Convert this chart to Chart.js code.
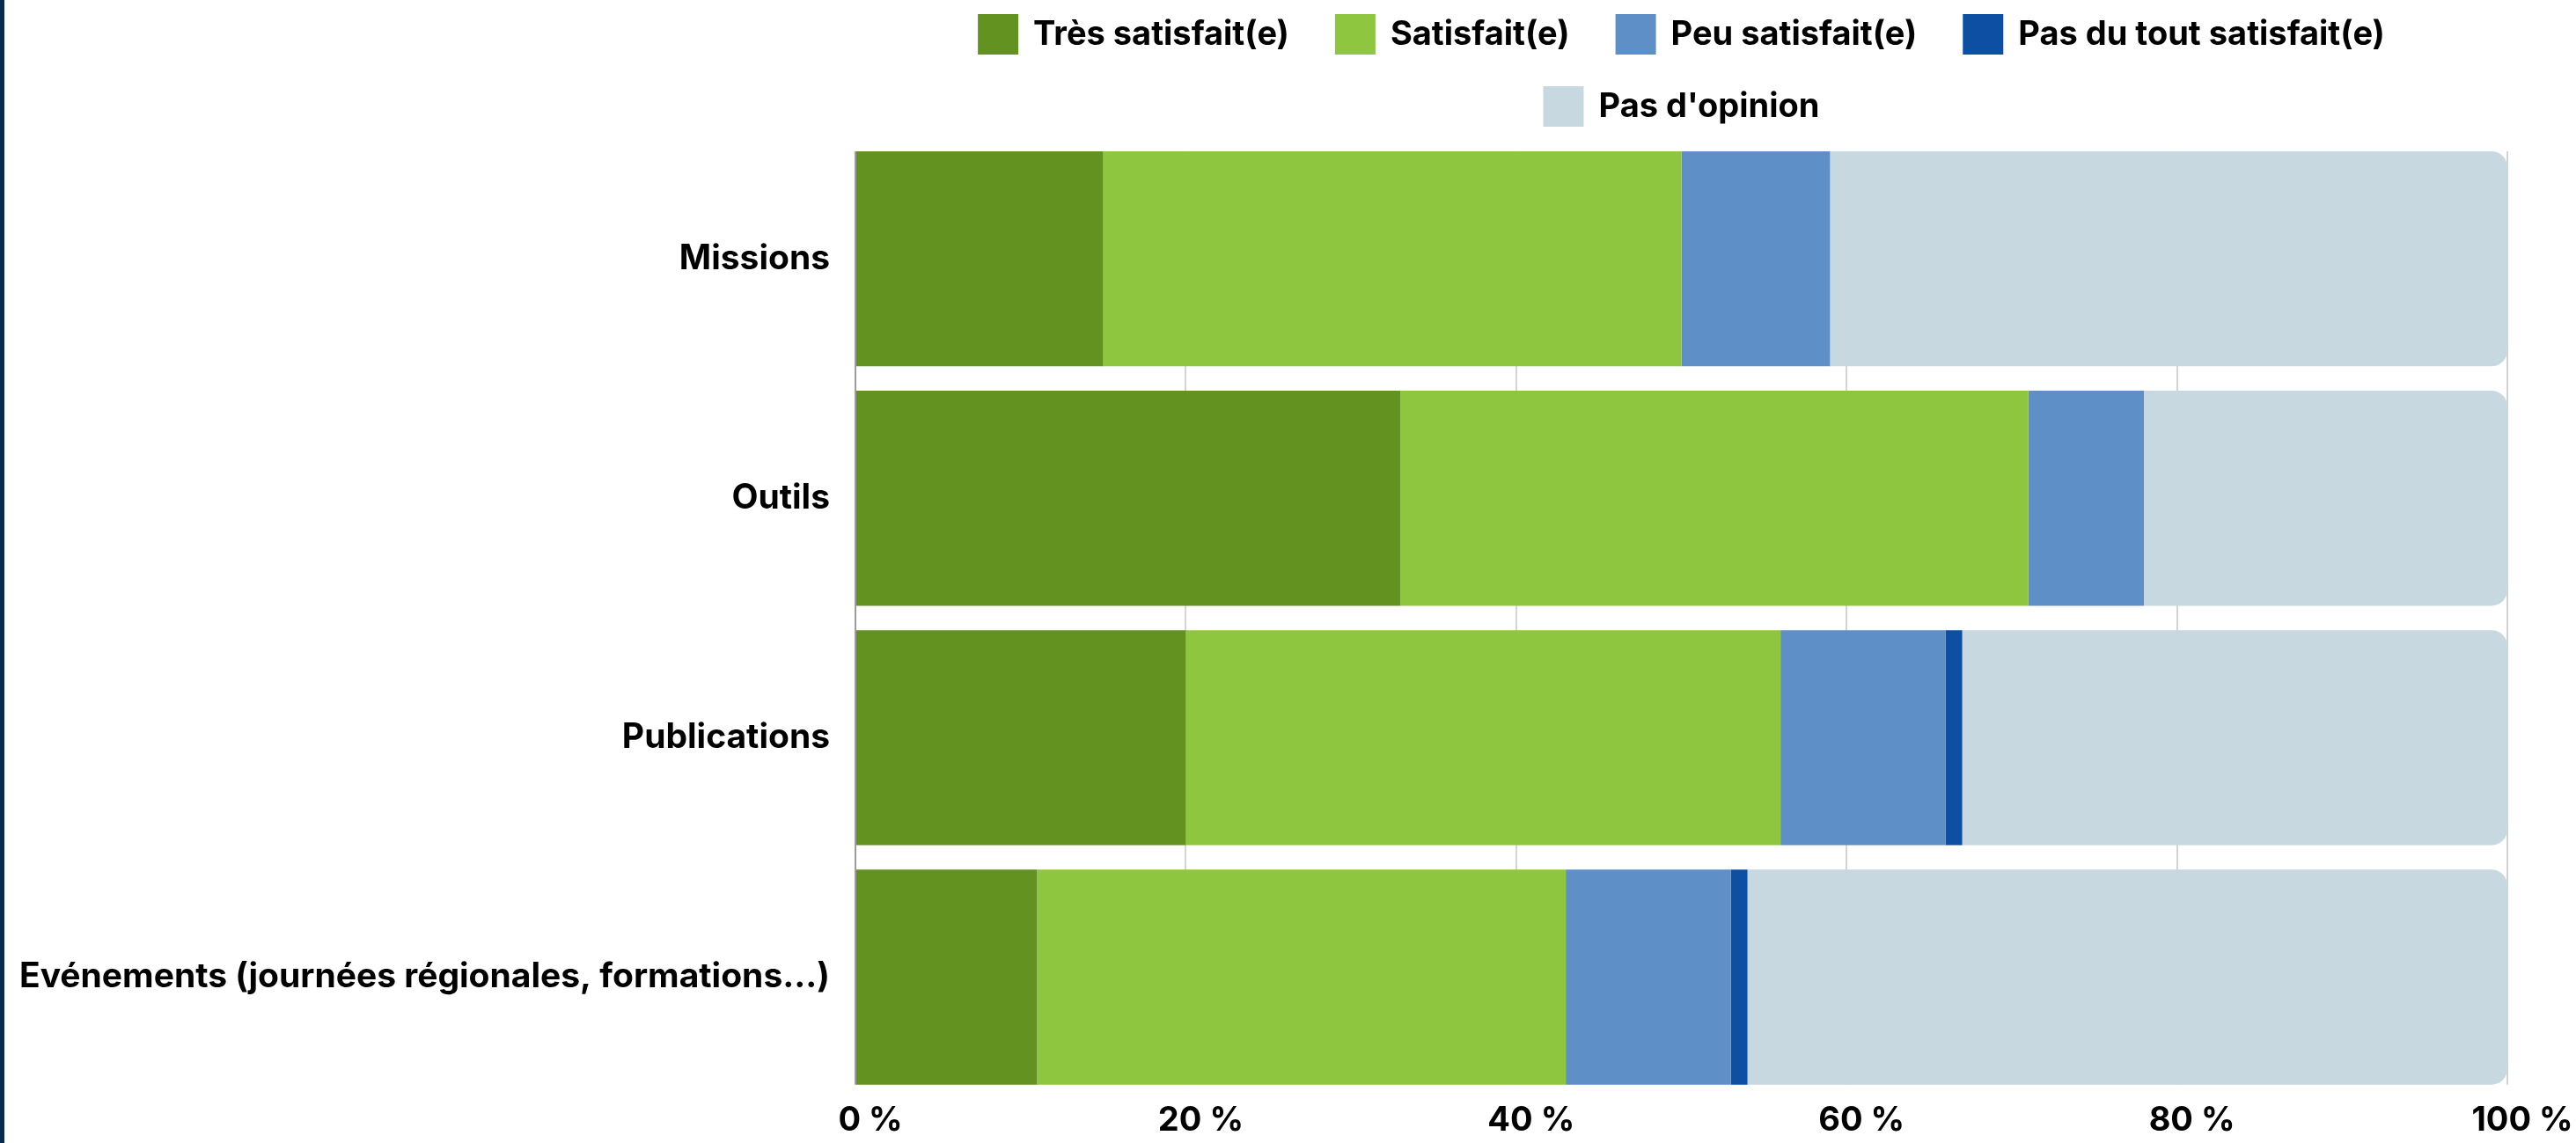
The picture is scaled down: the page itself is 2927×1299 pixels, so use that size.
<!DOCTYPE html>
<html>
<head>
<meta charset="utf-8">
<script src="https://cdn.jsdelivr.net/npm/chart.js@4.4.1/dist/chart.umd.min.js"></script>
<style>
  html, body { margin: 0; padding: 0; background: #fff; overflow: hidden; }
  #wrap { position: relative; width: 2927px; height: 1299px; }
  #edge { position: absolute; left: 0; top: 0; width: 5px; height: 1299px; background: #0b2a4f; }
</style>
</head>
<body>
<div id="wrap">
  <canvas id="myChart" width="2927" height="1299"></canvas>
  <div id="edge"></div>
</div>
<script>
const categories = ['Missions', 'Outils', 'Publications', 'Evénements (journées régionales, formations...)'];
const seriesNames = ['Très satisfait(e)', 'Satisfait(e)', 'Peu satisfait(e)', 'Pas du tout satisfait(e)', "Pas d'opinion"];
const seriesColors = ['#639221', '#8fc640', '#5e8fc6', '#0d4fa2', '#c8d8e0'];

const tresSatisfait = [15, 33, 20, 11];
const satisfait = [35, 38, 36, 32];
const peuSatisfait = [9, 7, 10, 10];
const pasDuTout = [0, 0, 1, 1];
const pasOpinion = [41, 22, 33, 46];

const xTicks = [0, 20, 40, 60, 80, 100];

const seriesValues = [tresSatisfait, satisfait, peuSatisfait, pasDuTout, pasOpinion];

// legend drawn centered on the plot area, wrapping like the original
const topLegend = {
    id: 'topLegend',
    afterDraw(chart) {
        const ctx = chart.ctx;
        const area = chart.chartArea;
        const box = 46, gap = 17, itemGap = 52;
        ctx.save();
        ctx.font = 'bold 38px Inter';
        const items = chart.data.datasets.map(ds => ({
            label: ds.label,
            color: ds.backgroundColor,
            w: box + gap + ctx.measureText(ds.label).width
        }));
        const rows = [[]];
        let rowW = 0;
        items.forEach(it => {
            const add = (rows[rows.length - 1].length ? itemGap : 0) + it.w;
            if (rowW + add > area.width && rows[rows.length - 1].length) {
                rows.push([it]);
                rowW = it.w;
            } else {
                rows[rows.length - 1].push(it);
                rowW += add;
            }
        });
        const rowY = [39, 121];
        const cx = (area.left + area.right) / 2;
        rows.forEach((row, r) => {
            const total = row.reduce((s, it) => s + it.w, 0) + itemGap * (row.length - 1);
            let x = cx - total / 2;
            const y = rowY[r] || (39 + r * 82);
            row.forEach(it => {
                ctx.fillStyle = it.color;
                ctx.fillRect(x, y - box / 2, box, box);
                ctx.fillStyle = '#000';
                ctx.textBaseline = 'middle';
                ctx.textAlign = 'left';
                ctx.fillText(it.label, x + box + gap, y + 1);
                x += it.w + itemGap;
            });
        });
        ctx.restore();
    }
};

// the original grid stops at the outer bar edges
const trimGrid = {
    id: 'trimGrid',
    beforeDatasetsDraw(chart) {
        const ctx = chart.ctx;
        const a = chart.chartArea;
        const bars = chart.getDatasetMeta(0).data;
        const first = bars[0], last = bars[bars.length - 1];
        const topEdge = first.y - first.height / 2;
        const bottomEdge = last.y + last.height / 2;
        ctx.save();
        ctx.fillStyle = '#fff';
        ctx.fillRect(a.left - 3, a.top - 2, a.width + 6, topEdge - a.top + 2);
        ctx.fillRect(a.left - 3, bottomEdge, a.width + 6, a.bottom - bottomEdge + 2);
        ctx.restore();
    }
};

const ctx = document.getElementById('myChart').getContext('2d');

const myChart = new Chart(ctx, {
    type: 'bar',
    data: {
        labels: categories,
        datasets: seriesValues.map((vals, i) => ({
            label: seriesNames[i],
            data: vals,
            backgroundColor: seriesColors[i],
            borderWidth: 0,
            borderRadius: i === seriesValues.length - 1 ? 18 : 0,
            borderSkipped: 'start',
            categoryPercentage: 1,
            barPercentage: 0.898
        }))
    },
    options: {
        indexAxis: 'y',
        responsive: false,
        animation: false,
        devicePixelRatio: 1,
        layout: {
            padding: { top: 158, left: 0, right: 0, bottom: 0 }
        },
        scales: {
            x: {
                stacked: true,
                min: 0,
                max: 100,
                afterBuildTicks: function(scale) {
                    scale.ticks = xTicks.map(v => ({ value: v }));
                },
                afterFit: function(scale) {
                    scale.height = 46;
                    scale.paddingRight = 78;
                },
                grid: {
                    color: '#d4d4d4',
                    lineWidth: 2,
                    drawTicks: false
                },
                border: { display: false },
                ticks: {
                    color: '#000',
                    padding: 4,
                    labelOffset: 17,
                    font: { family: 'Inter', size: 38, weight: 'bold' },
                    callback: function(value) {
                        return value + ' %';
                    }
                }
            },
            y: {
                stacked: true,
                afterFit: function(scale) {
                    scale.width = 972;
                },
                grid: {
                    display: false,
                    drawTicks: false
                },
                border: { display: true, color: '#9c9c9c', width: 2 },
                ticks: {
                    color: '#000',
                    padding: 29,
                    font: { family: 'Inter', size: 39, weight: 'bold' }
                }
            }
        },
        plugins: {
            legend: { display: false },
            tooltip: { enabled: false }
        }
    },
    plugins: [trimGrid, topLegend]
});
</script>
</body>
</html>
